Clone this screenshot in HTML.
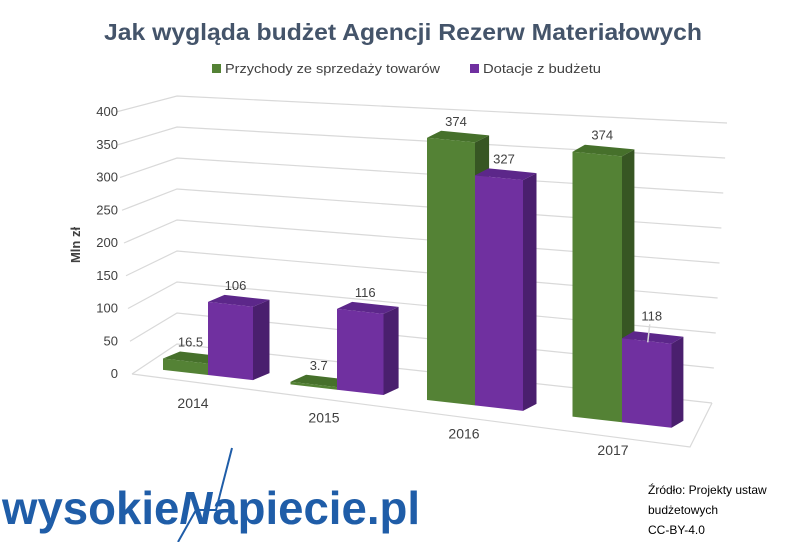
<!DOCTYPE html>
<html><head><meta charset="utf-8"><style>
html,body{margin:0;padding:0;background:#fff;}
body{width:805px;height:542px;overflow:hidden;font-family:"Liberation Sans",sans-serif;}
</style></head><body>
<svg id="chart" width="805" height="542" viewBox="0 0 805 542" xmlns="http://www.w3.org/2000/svg" font-family="Liberation Sans, sans-serif">
<rect width="805" height="542" fill="#fff"/>
<text x="403" y="40" text-anchor="middle" font-size="23" font-weight="bold" fill="#44546a" textLength="598" lengthAdjust="spacingAndGlyphs">Jak wygląda budżet Agencji Rezerw Materiałowych</text>
<g>
<rect x="212" y="64" width="9" height="9" fill="#548235"/>
<text x="225" y="73" font-size="13" fill="#404040" textLength="215" lengthAdjust="spacingAndGlyphs">Przychody ze sprzedaży towarów</text>
<rect x="470" y="64" width="9" height="9" fill="#7030a0"/>
<text x="483" y="73" font-size="13" fill="#404040" textLength="118" lengthAdjust="spacingAndGlyphs">Dotacje z budżetu</text>
</g>
<text transform="translate(80,245) rotate(-90)" text-anchor="middle" font-size="13" font-weight="bold" fill="#404040">Mln zł</text>
<g id="grid"></g>
<g id="yticks"></g>
<g id="bars"></g>
<g id="xlabels"></g>
<g id="vlabels"></g>
<g>
<text x="2" y="524" font-size="46" font-weight="bold" fill="#1f5da8" textLength="418" lengthAdjust="spacingAndGlyphs">wysokie<tspan font-style="italic">N</tspan>apiecie.pl</text>
<path d="M232 448 L216 510 L196 510 L178 542" stroke="#1f5da8" stroke-width="2" fill="none"/>
</g>
<g font-size="12" fill="#000">
<text x="648" y="494">Źródło: Projekty ustaw</text>
<text x="648" y="514">budżetowych</text>
<text x="648" y="534">CC-BY-4.0</text>
</g>
</svg>
<script>
const categories = ["2014","2015","2016","2017"];
const salesValues = [16.5, 3.7, 374, 374];
const subsidyValues = [106, 116, 327, 118];
const salesLabels = ["16,5","3,7","374","374"];
const subsidyLabels = ["106","116","327","118"];
const yTicks = [0,50,100,150,200,250,300,350,400];
const yMax = 400;

const NS="http://www.w3.org/2000/svg";
function mk(tag, attrs, parent){const e=document.createElementNS(NS,tag);for(const k in attrs)e.setAttribute(k,attrs[k]);parent.appendChild(e);return e;}
function baseY(x){return 375+0.114*(x-208);}
function scaleY(x){return 0.69+0.00005*(x-208);}
function valY(x,v){return baseY(x)-v*scaleY(x);}
function catBoundary(i){return 208+129*i+4.5*i*(i-1);}
function barWidth(i){return 45+1.5*i;}
function depthDx(x){return 17-0.011*(x-208);}
const depthDy=-7;
function backLeft(v){return [177,344-v*0.62*(400/yMax)];}
function backRight(v){return [712+v/yMax*15,403-v*0.7*(400/yMax)];}
function frontLeft(v){return [132-v/yMax*16,374-v*0.655*(400/yMax)];}

const grid=document.getElementById('grid');
yTicks.forEach(v=>{
  const a=frontLeft(v),b=backLeft(v),c=backRight(v);
  const p=mk('polyline',{points:`${a[0]},${a[1]} ${b[0]},${b[1]} ${c[0]},${c[1]}`,fill:'none',stroke:'#d9d9d9','stroke-width':1.2},grid);
  
  
});
const floor=mk('polyline',{points:`132,374 690,447 712,403`,fill:'none',stroke:'#d9d9d9','stroke-width':1.2},grid);



const yt=document.getElementById('yticks');
yTicks.forEach(v=>{
  const a=frontLeft(v);
  const t=mk('text',{x:118,y:a[1]+4,'text-anchor':'end','font-size':13,fill:'#404040'},yt);
  t.textContent=v;
  
  
});

const bars=document.getElementById('bars');
const vl=document.getElementById('vlabels');
function drawBar(x0,x1,v,cols,name,label,leader){
  const g=mk('g',{},bars);
  
  
  const bl=[x0,baseY(x0)],br=[x1,baseY(x1)],tl=[x0,valY(x0,v)],tr=[x1,valY(x1,v)];
  const dx=depthDx(x1),dy=depthDy;
  const pt=p=>p[0].toFixed(1)+','+p[1].toFixed(1);
  const off=p=>[p[0]+dx,p[1]+dy];
  mk('polygon',{points:[br,off(br),off(tr),tr].map(pt).join(' '),fill:cols[1]},g);
  mk('polygon',{points:[tl,tr,off(tr),off(tl)].map(pt).join(' '),fill:cols[2]},g);
  mk('polygon',{points:[bl,br,tr,tl].map(pt).join(' '),fill:cols[0]},g);
  const top=Math.min(tl[1],tr[1]);
  const cx=(x0+x1)/2+5;
  const ty=leader?top-18:top-12;
  const t=mk('text',{x:cx,y:ty,'text-anchor':'middle','font-size':13,fill:'#404040'},vl);
  t.textContent=label;
  
  
  if(leader){
    const l=mk('line',{x1:cx-2,y1:ty+4,x2:cx-4,y2:top+4,stroke:'#d9d9d9','stroke-width':1.5},vl);
    
    
  }
}
const green=['#548235','#375623','#46702b'];
const purple=['#7030a0','#4a1f6e','#5c278a'];
categories.forEach((c,i)=>{
  const b=catBoundary(i),w=barWidth(i);
  drawBar(b-w,b,salesValues[i],green,'bar-sales-'+c,salesLabels[i].replace(',','.'),false);
  drawBar(b,b+w,subsidyValues[i],purple,'bar-subsidy-'+c,subsidyLabels[i],i===3);
  const t=mk('text',{x:b-15+(i*2),y:baseY(b)+33,'text-anchor':'middle','font-size':14,fill:'#404040'},document.getElementById('xlabels'));
  t.textContent=c;
  
  
});
</script>
</body></html>
